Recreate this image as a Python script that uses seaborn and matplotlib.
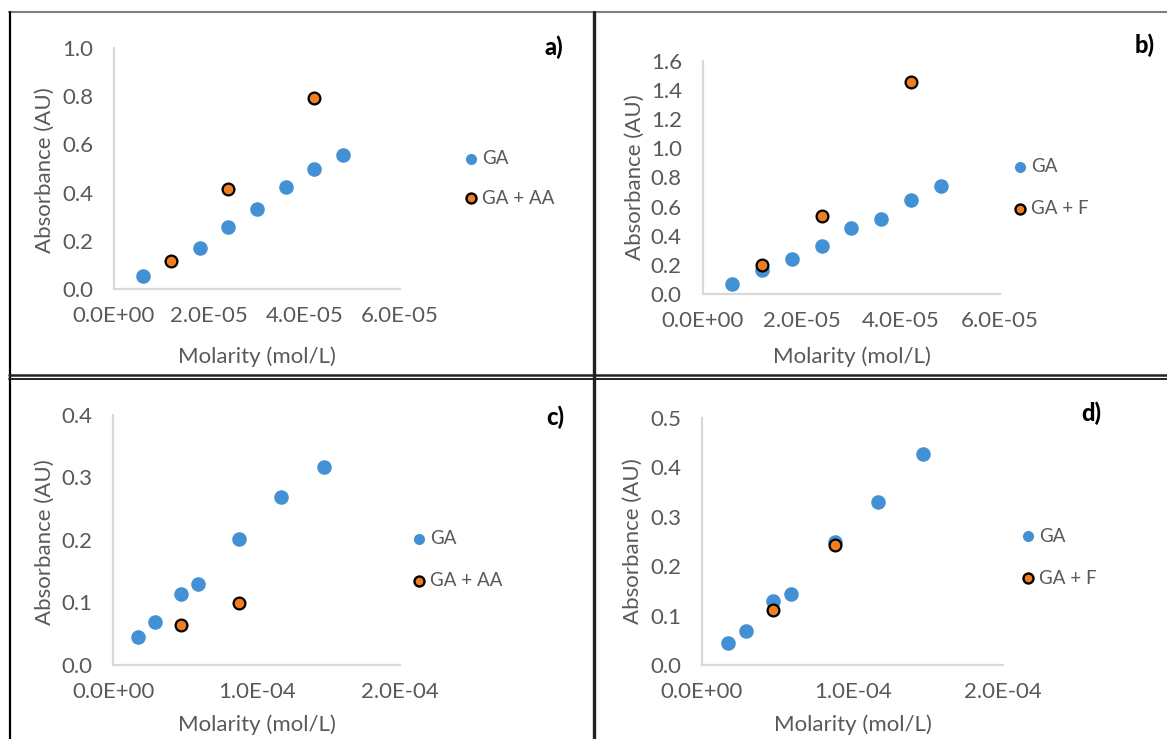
import numpy as np
import pandas as pd
import matplotlib
matplotlib.use("Agg")
import matplotlib.pyplot as plt
from matplotlib.lines import Line2D
from matplotlib.ticker import FuncFormatter, MultipleLocator
import seaborn as sns

# ---------------- data ----------------
a_ga_x = [6e-6, 1.8e-5, 2.4e-5, 3.0e-5, 3.6e-5, 4.2e-5, 4.8e-5]
a_ga_y = [0.053, 0.170, 0.257, 0.330, 0.423, 0.500, 0.555]
a_mix_x = [1.2e-5, 2.4e-5, 4.2e-5]
a_mix_y = [0.115, 0.414, 0.794]

b_ga_x = [6e-6, 1.2e-5, 1.8e-5, 2.4e-5, 3.0e-5, 3.6e-5, 4.2e-5, 4.8e-5]
b_ga_y = [0.071, 0.165, 0.238, 0.330, 0.450, 0.514, 0.642, 0.738]
b_mix_x = [1.2e-5, 2.4e-5, 4.2e-5]
b_mix_y = [0.197, 0.537, 1.451]

c_ga_x = [1.75e-5, 2.9e-5, 4.7e-5, 5.9e-5, 8.8e-5, 1.17e-4, 1.47e-4]
c_ga_y = [0.045, 0.069, 0.114, 0.130, 0.202, 0.269, 0.317]
c_mix_x = [4.7e-5, 8.8e-5]
c_mix_y = [0.064, 0.099]

d_ga_x = [1.75e-5, 2.9e-5, 4.7e-5, 5.9e-5, 8.8e-5, 1.17e-4, 1.47e-4]
d_ga_y = [0.045, 0.069, 0.130, 0.143, 0.248, 0.330, 0.426]
d_mix_x = [4.7e-5, 8.8e-5]
d_mix_y = [0.112, 0.243]

panel_letters = ["a)", "b)", "c)", "d)"]
mix_names = ["GA + AA", "GA + F", "GA + AA", "GA + F"]
x_ticks_ab = [0, 2e-5, 4e-5, 6e-5]
x_ticks_cd = [0, 1e-4, 2e-4]
y_max = [1.0, 1.6, 0.4, 0.5]
y_step = [0.2, 0.2, 0.1, 0.1]
x_label = "Molarity (mol/L)"
y_label = "Absorbance (AU)"

# ---------------- style ----------------
sns.set_theme(style="white")
plt.rcParams["font.family"] = ["Lato", "DejaVu Sans"]

BLUE = "#4391d4"
ORANGE = "#f07f22"
GRAY_TXT = "#595959"
SPINE = "#d9d9d9"

W, H = 1167, 739
fig = plt.figure(figsize=(W / 100, H / 100), dpi=100)
fig.patch.set_facecolor("white")


def px_axes(left, right, bottom, top):
    return [left / W, 1 - bottom / H, (right - left) / W, (bottom - top) / H]


# axes rectangles in pixels (left, right, y of 0, y of max)
rects = [
    (114, 400, 289, 48),
    (702.7, 1000, 294, 60.7),
    (113.3, 400, 665, 415),
    (702, 1003.3, 665, 417.7),
]
xlims = [6e-5, 6e-5, 2e-4, 2e-4]
xticks = [x_ticks_ab, x_ticks_ab, x_ticks_cd, x_ticks_cd]
data = [
    (a_ga_x, a_ga_y, a_mix_x, a_mix_y),
    (b_ga_x, b_ga_y, b_mix_x, b_mix_y),
    (c_ga_x, c_ga_y, c_mix_x, c_mix_y),
    (d_ga_x, d_ga_y, d_mix_x, d_mix_y),
]
ylab_pos = [(-0.241, 0.494), (-0.228, 0.50), (-0.238, 0.493), (-0.229, 0.499)]
xlab_pos = [(0.5, -0.282), (0.501, -0.27), (0.5, -0.24), (0.501, -0.243)]
legend_pos = [(471, 159, 198), (1020, 167, 209), (419, 539, 581), (1028, 536, 578)]
letter_pos = [(563, 47), (1155, 45), (564, 417), (1101, 413)]

for i in range(4):
    l, r, b, t = rects[i]
    ax = fig.add_axes(px_axes(l, r, b, t))
    gx, gy, mx, my = data[i]
    df_ga = pd.DataFrame({"x": gx, "y": gy})
    df_mix = pd.DataFrame({"x": mx, "y": my})
    sns.scatterplot(data=df_ga, x="x", y="y", ax=ax, color=BLUE, s=110,
                    linewidth=0, legend=False, clip_on=False, zorder=3)
    sns.scatterplot(data=df_mix, x="x", y="y", ax=ax, color=ORANGE, s=72,
                    edgecolor="black", linewidth=1.6, legend=False,
                    clip_on=False, zorder=4)
    ax.set_xlim(0, xlims[i])
    ax.set_ylim(0, y_max[i])
    ax.set_xticks(xticks[i])
    ax.yaxis.set_major_locator(MultipleLocator(y_step[i]))
    ax.xaxis.set_major_formatter(FuncFormatter(lambda v, p: f"{v:.1E}"))
    ax.yaxis.set_major_formatter(FuncFormatter(lambda v, p: f"{v:.1f}"))
    for s in ["top", "right"]:
        ax.spines[s].set_visible(False)
    for s in ["left", "bottom"]:
        ax.spines[s].set_color(SPINE)
        ax.spines[s].set_linewidth(1.6)
    ax.tick_params(axis="both", length=0, labelsize=16, labelcolor=GRAY_TXT)
    ax.tick_params(axis="x", pad=12)
    ax.tick_params(axis="y", pad=15)
    ax.set_facecolor("none")
    ax.set_xlabel(x_label, fontsize=16, color=GRAY_TXT)
    ax.set_ylabel(y_label, fontsize=16, color=GRAY_TXT)
    ax.xaxis.set_label_coords(*xlab_pos[i])
    ax.yaxis.set_label_coords(*ylab_pos[i])
    ax.xaxis.label.set_va("center")
    ax.yaxis.label.set_va("center")

    # legend
    lx, ly1, ly2 = legend_pos[i]
    specs = [
        dict(markersize=8, markerfacecolor=BLUE, markeredgecolor=BLUE,
             markeredgewidth=0),
        dict(markersize=7.2, markerfacecolor=ORANGE, markeredgecolor="black",
             markeredgewidth=1.7),
    ]
    for spec, yy, txt in zip(specs, [ly1, ly2], ["GA", mix_names[i]]):
        fig.add_artist(Line2D([lx / W], [1 - yy / H], linestyle="none",
                              marker="o", transform=fig.transFigure, **spec))
        fig.text((lx + 11) / W, 1 - yy / H, txt, fontsize=13.5,
                 color=GRAY_TXT, va="center", ha="left")

    px, py = letter_pos[i]
    fig.text(px / W, 1 - py / H, panel_letters[i], fontsize=17,
             fontweight="black", color="black", ha="right", va="center")

# panel borders
def hline(y, x0, x1, color, lw):
    fig.add_artist(Line2D([x0 / W, x1 / W], [1 - y / H, 1 - y / H],
                          color=color, linewidth=lw,
                          transform=fig.transFigure))


def vline(x, y0, y1, color, lw):
    fig.add_artist(Line2D([x / W, x / W], [1 - y0 / H, 1 - y1 / H],
                          color=color, linewidth=lw,
                          transform=fig.transFigure))


hline(12, 9, W, "#7f7f7f", 1.5)
vline(9.5, 12, H, "black", 1.6)
vline(594.5, 12, H, "#222222", 2.4)
hline(374.5, 9, W, "#222222", 1.8)
hline(378.5, 9, W, "#222222", 1.4)

fig.savefig("out.png", dpi=100, facecolor="white")
